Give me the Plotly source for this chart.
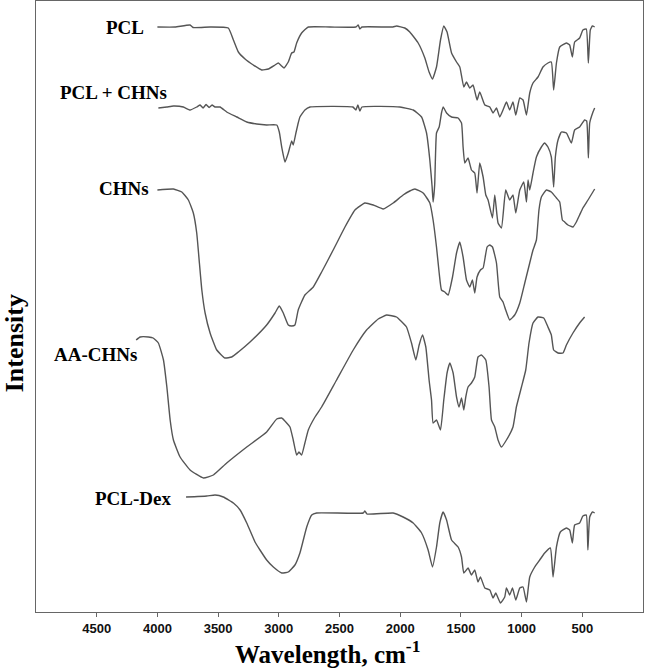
import plotly.graph_objects as go

# ---- data (wavenumber cm-1, stacked intensity in arbitrary units) ----
pcl_wn = [4000, 3854, 3731, 3706, 3566, 3416, 3374, 3333, 3278, 3210, 3141, 3086, 3031, 3004, 2976, 2957,
          2922, 2894, 2875, 2853, 2812, 2757, 2579, 2365, 2346, 2332, 2315, 2060, 2030, 1962, 1921, 1852,
          1797, 1762, 1734, 1701, 1668, 1641, 1614, 1577, 1536, 1509, 1476, 1454, 1427, 1400, 1367, 1345,
          1303, 1262, 1235, 1207, 1180, 1153, 1125, 1098, 1071, 1048, 1015, 988, 960, 933, 906, 865, 824,
          783, 755, 736, 713, 686, 631, 604, 582, 563, 522, 495, 467, 450, 434, 417, 398]
pcl_int = [585, 585, 587, 584.5, 585, 584, 572, 560, 553, 547, 542, 543, 547, 549, 546, 544,
           550, 559, 560, 569, 579, 585, 585, 585, 587, 583, 585, 585, 586, 584, 580, 569,
           554, 540, 533, 545, 572, 586, 580, 559, 550, 545, 525, 530, 524, 527, 512, 520,
           507, 505, 499, 504, 495, 502, 510, 502, 510, 497, 514, 512, 497, 519, 529, 535, 545,
           549, 550, 522, 549, 565, 569, 567, 555, 570, 574, 582, 583, 549, 582, 586, 585]

pclchn_wn = [3992, 3922, 3868, 3786, 3731, 3676, 3648, 3624, 3599, 3574, 3550, 3525, 3484, 3429, 3346,
             3264, 3182, 3100, 3017, 2996, 2976, 2949, 2922, 2894, 2881, 2859, 2840, 2826, 2785, 2743,
             2390, 2365, 2349, 2332, 2315, 2003, 1893, 1824, 1783, 1756, 1737, 1729, 1716, 1701, 1679,
             1660, 1646, 1618, 1577, 1523, 1495, 1482, 1468, 1441, 1413, 1386, 1367, 1345, 1317, 1295,
             1276, 1240, 1221, 1194, 1166, 1131, 1098, 1071, 1048, 1015, 982, 960, 947, 933, 906, 878,
             837, 810, 783, 755, 736, 722, 700, 672, 631, 590, 563, 522, 481, 464, 450, 439, 412, 398]
pclchn_int = [504, 505, 506, 505, 502, 505, 507, 504, 507.5, 504.5, 507, 505, 505, 500, 495,
              490, 488, 487, 487, 480, 465, 450, 459, 471, 467, 479, 489, 495, 502, 505,
              505, 502, 507, 501, 505, 505, 502, 495, 479, 452, 425, 410, 427, 479, 485,
              499, 505, 499, 495, 494, 489, 465, 449, 454, 442, 439, 419, 449, 435, 417,
              412, 394, 417, 389, 384, 422, 412, 417, 399, 422, 430, 410, 432, 422, 439, 455,
              465, 469, 465, 455, 425, 455, 472, 480, 479, 469, 482, 485, 492, 491, 454, 489, 500, 504]

chn_wn = [4000, 3868, 3799, 3745, 3704, 3676, 3654, 3634, 3607, 3566, 3511, 3443, 3388, 3333, 3237,
          3100, 3031, 2996, 2963, 2922, 2894, 2867, 2840, 2785, 2716, 2647, 2552, 2455, 2373, 2291,
          2222, 2140, 2058, 1976, 1921, 1879, 1811, 1756, 1729, 1701, 1679, 1660, 1633, 1605, 1569,
          1536, 1509, 1482, 1454, 1427, 1405, 1386, 1367, 1339, 1317, 1284, 1262, 1240, 1207, 1180,
          1153, 1131, 1098, 1057, 1015, 974, 933, 906, 878, 857, 837, 796, 755, 713, 686, 664, 645,
          618, 577, 549, 522, 495, 453, 398]
chn_int = [422, 423, 420, 412, 399, 379, 349, 322, 299, 279, 262, 254, 255, 260, 270,
           287, 299, 306, 299, 287, 286, 287, 302, 317, 325, 340, 362, 385, 402, 409,
           407, 403, 409, 417, 421, 423, 419, 409, 392, 365, 339, 322, 320, 317, 335,
           359, 370, 355, 332, 325, 332, 319, 335, 342, 344, 365, 367, 365, 349, 315,
           310, 302, 292, 297, 309, 329, 349, 362, 372, 402, 415, 422, 420, 414, 410, 392, 390,
           387, 385, 390, 397, 404, 412, 423]

aa_wn = [4175, 4142, 4074, 4035, 3992, 3950, 3922, 3895, 3868, 3813, 3731, 3621, 3539, 3429, 3264,
         3100, 3017, 2976, 2935, 2908, 2881, 2853, 2834, 2812, 2785, 2757, 2702, 2647, 2524, 2387,
         2277, 2181, 2112, 2030, 2003, 1948, 1907, 1871, 1844, 1816, 1789, 1762, 1742, 1729, 1701,
         1668, 1641, 1614, 1591, 1564, 1536, 1515, 1495, 1476, 1460, 1441, 1413, 1386, 1359, 1331,
         1295, 1268, 1248, 1221, 1194, 1166, 1125, 1071, 1043, 1001, 966, 939, 906, 865, 818, 783,
         755, 736, 700, 659, 631, 577, 522, 481]
aa_int = [272, 275, 275, 274, 269, 252, 225, 192, 172, 155, 142, 134, 137, 149, 165,
          180, 193, 194, 189, 185, 172, 157, 160, 157, 169, 182, 195, 205, 232, 262,
          282, 293, 297, 295, 292, 285, 269, 252, 267, 277, 265, 232, 212, 189, 192,
          182, 212, 239, 249, 239, 215, 205, 214, 202, 215, 225, 229, 235, 255, 257,
          252, 225, 192, 185, 172, 165, 172, 185, 205, 225, 242, 269, 289, 295, 294, 285,
          277, 262, 259, 259, 267, 279, 289, 295]

dex_wn = [3764, 3593, 3525, 3457, 3374, 3319, 3264, 3196, 3155, 3100, 3045, 2976, 2922, 2867, 2826,
          2798, 2770, 2729, 2688, 2305, 2291, 2274, 2058, 1976, 1893, 1824, 1770, 1734, 1701, 1674,
          1647, 1618, 1577, 1523, 1495, 1476, 1441, 1413, 1386, 1359, 1339, 1303, 1262, 1235, 1213,
          1174, 1139, 1125, 1098, 1075, 1048, 1015, 988, 960, 933, 892, 851, 810, 763, 741, 713,
          681, 631, 604, 582, 563, 522, 495, 467, 454, 439, 417, 398]
dex_int = [115, 116, 117, 115, 109, 102, 89, 70, 62, 52, 45, 39, 40, 47, 59,
           72, 85, 97, 99, 99, 101, 98, 99, 95, 89, 79, 62, 45, 65, 89,
           100, 92, 72, 65, 55, 39, 44, 37, 42, 30, 35, 24, 22, 14, 19,
           9, 15, 24, 17, 24, 12, 24, 25, 10, 35, 45, 52, 59, 64, 35, 65,
           80, 84, 82, 69, 87, 89, 96, 97, 62, 95, 100, 99]

series_names = ["PCL", "PCL + CHNs", "CHNs", "AA-CHNs", "PCL-Dex"]
label_x = [4093, 3906, 4052, 4150, 3868]
label_y = [585, 520, 424, 258, 114]

x_ticks = [4500, 4000, 3500, 3000, 2500, 2000, 1500, 1000, 500]

# ---- figure ----
line_color = "#555555"
fig = go.Figure()
for wn, inten, name in [(pcl_wn, pcl_int, series_names[0]),
                        (pclchn_wn, pclchn_int, series_names[1]),
                        (chn_wn, chn_int, series_names[2]),
                        (aa_wn, aa_int, series_names[3]),
                        (dex_wn, dex_int, series_names[4])]:
    fig.add_trace(go.Scatter(x=wn, y=inten, mode="lines", name=name,
                             line=dict(color=line_color, width=1.4, shape="spline", smoothing=0.4),
                             showlegend=False))

for name, lx, ly in zip(series_names, label_x, label_y):
    fig.add_annotation(x=lx, y=ly, text="<b>%s</b>" % name, showarrow=False,
                       xanchor="right", yanchor="middle",
                       font=dict(family="Liberation Serif", size=19, color="#000000"))

# axis titles placed as annotations (paper coordinates)
fig.add_annotation(xref="paper", yref="paper", x=0.48, y=-0.066,
                   text="<b>Wavelength, cm<sup>-1</sup></b>", showarrow=False,
                   xanchor="center", yanchor="middle",
                   font=dict(family="Liberation Serif", size=25, color="#000000"))
fig.add_annotation(xref="paper", yref="paper", x=-0.036, y=0.44,
                   text="<b>Intensity</b>", showarrow=False, textangle=-90,
                   xanchor="center", yanchor="middle",
                   font=dict(family="Liberation Serif", size=26, color="#000000"))

fig.update_layout(
    width=645, height=668,
    margin=dict(l=36, r=2, t=1, b=56, autoexpand=False),
    paper_bgcolor="white", plot_bgcolor="white",
    xaxis=dict(range=[5000, 0], tickvals=x_ticks, ticktext=[str(v) for v in x_ticks],
               automargin=False,
               showgrid=False, zeroline=False, showline=True, mirror=True,
               linecolor="#666666", linewidth=1, ticks="outside", ticklen=4,
               tickcolor="#666666",
               tickfont=dict(family="Liberation Sans", size=13, color="#111111", weight="bold")),
    yaxis=dict(range=[0, 611], automargin=False,
               showgrid=False, zeroline=False, showline=True, mirror=True,
               linecolor="#666666", linewidth=1, showticklabels=False, ticks=""),
)

fig.write_html("out.html", config={"displayModeBar": False},
               post_script="document.body.style.margin='0';document.body.style.overflow='hidden';")
